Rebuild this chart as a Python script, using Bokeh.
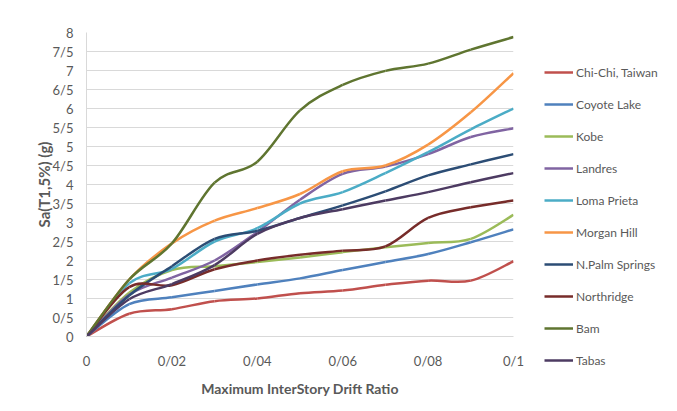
from bokeh.plotting import figure
from bokeh.models import (ColumnDataSource, Range1d, FixedTicker, CustomJSTickFormatter,
                          Legend, LegendItem, BoxAnnotation)
from bokeh.embed import file_html
from bokeh.resources import INLINE

drift = [0, 0.01, 0.02, 0.03, 0.04, 0.05, 0.06, 0.07, 0.08, 0.09, 0.1]

chi_chi = [0, 0.6, 0.72, 0.93, 1.0, 1.14, 1.21, 1.36, 1.47, 1.47, 1.98]
coyote_lake = [0, 0.85, 1.03, 1.2, 1.37, 1.53, 1.75, 1.96, 2.17, 2.48, 2.82]
kobe = [0, 1.15, 1.75, 1.85, 1.96, 2.08, 2.22, 2.35, 2.46, 2.57, 3.2]
landres = [0, 1.1, 1.55, 2.0, 2.75, 3.6, 4.28, 4.47, 4.8, 5.25, 5.48]
loma_prieta = [0, 1.4, 1.78, 2.5, 2.85, 3.5, 3.8, 4.3, 4.85, 5.45, 6.0]
morgan_hill = [0, 1.5, 2.45, 3.05, 3.38, 3.75, 4.35, 4.5, 5.05, 5.9, 6.93]
n_palm_springs = [0, 1.08, 1.85, 2.57, 2.78, 3.12, 3.45, 3.82, 4.24, 4.53, 4.8]
northridge = [0, 1.3, 1.35, 1.77, 2.0, 2.15, 2.26, 2.37, 3.12, 3.4, 3.58]
bam = [0, 1.5, 2.45, 4.05, 4.6, 5.95, 6.62, 6.99, 7.18, 7.55, 7.88]
tabas = [0, 0.98, 1.38, 1.88, 2.7, 3.12, 3.35, 3.58, 3.8, 4.06, 4.3]

series_names = ["Chi-Chi, Taiwan", "Coyote Lake", "Kobe", "Landres", "Loma Prieta",
                "Morgan Hill", "N.Palm Springs", "Northridge", "Bam", "Tabas"]
series_values = [chi_chi, coyote_lake, kobe, landres, loma_prieta,
                 morgan_hill, n_palm_springs, northridge, bam, tabas]
series_colors = ["#C0504D", "#4F81BD", "#9BBB59", "#8064A2", "#4BACC6",
                 "#F79646", "#2C4D75", "#772C2A", "#5F7530", "#4D3B62"]

y_ticks = [i * 0.5 for i in range(17)]
x_ticks = [0, 0.02, 0.04, 0.06, 0.08, 0.1]

FONT = "Lato"
TXT = "#595959"
GRID = "#d9d9d9"


def smooth_segments(xs, ys):
    """Catmull-Rom style Bezier control points (like Excel's smoothed line)."""
    n = len(xs)
    d = dict(x0=[], y0=[], x1=[], y1=[], cx0=[], cy0=[], cx1=[], cy1=[])
    for i in range(n - 1):
        xp, yp = (xs[i - 1], ys[i - 1]) if i > 0 else (xs[i], ys[i])
        xn, yn = (xs[i + 2], ys[i + 2]) if i + 2 < n else (xs[i + 1], ys[i + 1])
        d["x0"].append(xs[i]); d["y0"].append(ys[i])
        d["x1"].append(xs[i + 1]); d["y1"].append(ys[i + 1])
        d["cx0"].append(xs[i] + (xs[i + 1] - xp) / 6.0)
        d["cy0"].append(ys[i] + (ys[i + 1] - yp) / 6.0)
        d["cx1"].append(xs[i + 1] - (xn - xs[i]) / 6.0)
        d["cy1"].append(ys[i + 1] - (yn - ys[i]) / 6.0)
    return d


p = figure(frame_width=427, frame_height=304,
           min_border_left=86, min_border_right=156,
           min_border_top=32, min_border_bottom=67,
           x_range=Range1d(0, 0.1), y_range=Range1d(0, 8),
           output_backend="svg", toolbar_location=None,
           background_fill_color="white", border_fill_color="white")
p.outline_line_color = None

p.xgrid.grid_line_color = None
p.ygrid.grid_line_color = GRID
p.ygrid.grid_line_width = 1
p.ygrid.ticker = FixedTicker(ticks=y_ticks)

p.yaxis.ticker = FixedTicker(ticks=y_ticks)
p.yaxis.formatter = CustomJSTickFormatter(code="return tick.toString().replace('.', '/');")
p.xaxis.ticker = FixedTicker(ticks=x_ticks)
p.xaxis.formatter = CustomJSTickFormatter(code="return tick.toString().replace('.', '/');")

for ax in (p.xaxis[0], p.yaxis[0]):
    ax.axis_line_color = GRID
    ax.axis_line_width = 1
    ax.major_tick_line_color = None
    ax.minor_tick_line_color = None
    ax.major_tick_out = 0
    ax.major_tick_in = 0
    ax.minor_tick_out = 0
    ax.major_label_text_font = FONT
    ax.major_label_text_font_size = "13px"
    ax.major_label_text_color = TXT
    ax.axis_label_text_font = FONT
    ax.axis_label_text_font_style = "bold"
    ax.axis_label_text_color = TXT

p.xaxis.axis_label = "Maximum InterStory Drift Ratio"
p.yaxis.axis_label = "Sa(T1,5%) (g)"
p.xaxis.axis_label_text_font_size = "14px"
p.yaxis.axis_label_text_font_size = "15px"
p.xaxis.major_label_standoff = 16
p.xaxis.axis_label_standoff = 8
p.yaxis.major_label_standoff = 13
p.yaxis.axis_label_standoff = -3

# faint chart-area border (screen units relative to the frame)
border = BoxAnnotation(left=-72, right=587, top=325, bottom=-90,
                       left_units="screen", right_units="screen",
                       top_units="screen", bottom_units="screen",
                       fill_alpha=0, line_color=GRID, line_width=1, level="underlay")
p.add_layout(border)

items = []
for name, vals, col in zip(series_names, series_values, series_colors):
    src = ColumnDataSource(smooth_segments(drift, vals))
    r = p.bezier(x0="x0", y0="y0", x1="x1", y1="y1", cx0="cx0", cy0="cy0",
                 cx1="cx1", cy1="cy1", source=src, line_color=col, line_width=2.5)
    items.append(LegendItem(label=name, renderers=[r]))

legend = Legend(items=items, location=(31, -34), orientation="vertical",
                glyph_width=29, glyph_height=20, label_height=20, spacing=12,
                label_standoff=3, padding=0, margin=0,
                border_line_color=None, background_fill_alpha=0,
                label_text_font=FONT, label_text_font_size="12px",
                label_text_color=TXT)
p.add_layout(legend, "right")

open("out.html", "w").write(file_html(p, INLINE))
